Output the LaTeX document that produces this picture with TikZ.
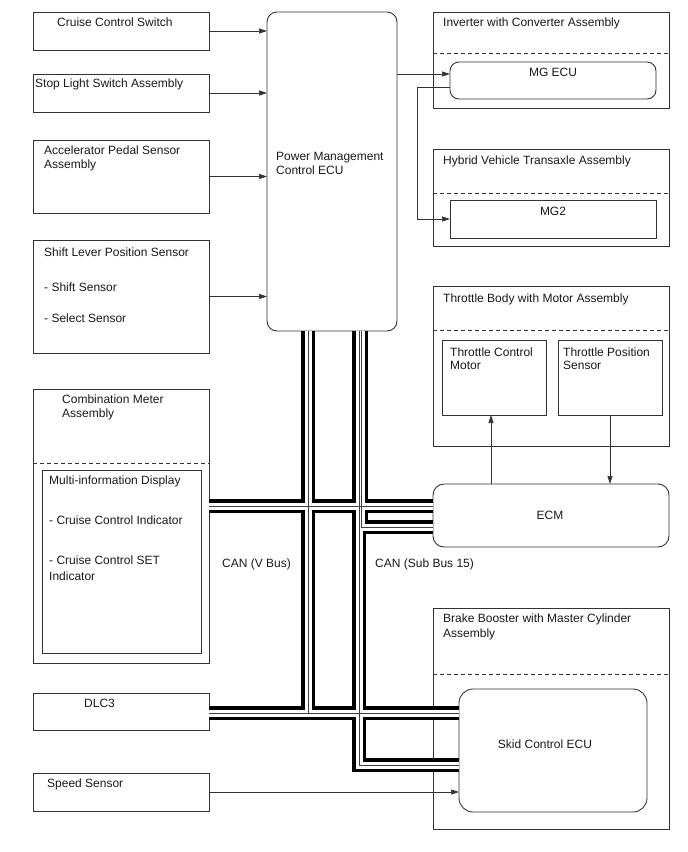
\documentclass[tikz,border=0pt]{standalone}
\usepackage{fontspec}
\setmainfont{Liberation Sans}
\usetikzlibrary{arrows.meta}
\newcommand\drawbuses[1]{%
  \draw[#1] (pmc.south -| vx) -- (vx |- yd);
  \draw[#1] (cm.east |- yv) -- (ecm.west |- yv);
  \draw[#1] (dlc.east |- yd) -- (skid.west |- yd);
  \draw[#1] (pmc.south -| sa) -- (sa |- ye) -- (ecm.west |- ye);
  \draw[#1] (pmc.south -| sb) -- (sb |- ys) -- (skid.west |- ys);
}
\begin{document}
\begin{tikzpicture}[x=1pt,y=-1pt,
  font=\fontsize{12}{14}\selectfont,
  box/.style={draw=black!80, line width=0.9pt, anchor=north west, inner sep=0pt, outer sep=0pt},
  rbox/.style={box, rounded corners=#1},
  txt/.style={anchor=base west, inner sep=0pt, text=black!90},
  ctxt/.style={anchor=base, inner sep=0pt, text=black!90},
  dsh/.style={draw=black!80, line width=0.9pt, dash pattern=on 4pt off 3pt},
  arr/.style={draw=black!80, line width=0.7pt, -{Triangle[length=8pt,width=5pt]}},
  wire/.style={draw=black!80, line width=0.7pt}]
\useasboundingbox (0,0) rectangle (688,852);

% left column
\node[box, minimum width=176pt, minimum height=38pt] (ccs) at (33,12) {};
\node[txt] (ccst) at (57,26) {Cruise Control Switch};
\node[box, minimum width=176pt, minimum height=38pt] (sls) at (33,74) {};
\node[txt] (slst) at (35,87) {Stop Light Switch Assembly};
\node[box, minimum width=176pt, minimum height=73pt] (aps) at (33,140) {};
\node[txt] (apst1) at (44,154) {Accelerator Pedal Sensor};
\node[txt] (apst2) at (44,168) {Assembly};
\node[box, minimum width=176pt, minimum height=113pt] (slp) at (33,240) {};
\node[txt] (slpt1) at (44,256) {Shift Lever Position Sensor};
\node[txt] (slpt2) at (44,291) {- Shift Sensor};
\node[txt] (slpt3) at (44,322) {- Select Sensor};

\node[box, minimum width=176pt, minimum height=274pt] (cm) at (33,389) {};
\draw[dsh] ([yshift=-74pt]cm.north west) -- ([yshift=-74pt]cm.north east);
\node[txt] (cmt1) at (62,403) {Combination Meter};
\node[txt] (cmt2) at (62,417) {Assembly};
\node[box, minimum width=159pt, minimum height=183pt] (mid) at (42,470) {};
\node[txt] (midt1) at (49,484) {Multi-information Display};
\node[txt] (midt2) at (49,524) {- Cruise Control Indicator};
\node[txt] (midt3) at (49,564) {- Cruise Control SET};
\node[txt] (midt4) at (49,580) {Indicator};

\node[box, minimum width=176pt, minimum height=37pt] (dlc) at (33,693) {};
\node[txt] (dlct) at (84,707) {DLC3};
\node[box, minimum width=176pt, minimum height=38pt] (spd) at (33,773) {};
\node[txt] (spdt) at (47,787) {Speed Sensor};

% PM ECU
\node[rbox=10pt, minimum width=130pt, minimum height=319pt] (pmc) at (267,12) {};
\node[txt] (pmct1) at (276,160) {Power Management};
\node[txt] (pmct2) at (276,174) {Control ECU};

% right column
\node[box, minimum width=236pt, minimum height=96pt] (inv) at (433,12) {};
\draw[dsh] ([yshift=-41pt]inv.north west) -- ([yshift=-41pt]inv.north east);
\node[txt] (invt) at (443,26) {Inverter with Converter Assembly};
\node[rbox=9pt, minimum width=206pt, minimum height=37pt] (mgecu) at (450,62) {};
\node[ctxt] (mgecut) at (553,76) {MG ECU};

\node[box, minimum width=236pt, minimum height=97pt] (hvt) at (433,149) {};
\draw[dsh] ([yshift=-44pt]hvt.north west) -- ([yshift=-44pt]hvt.north east);
\node[txt] (hvtt) at (443,164) {Hybrid Vehicle Transaxle Assembly};
\node[box, minimum width=206pt, minimum height=38pt] (mg2) at (450,200) {};
\node[ctxt] (mg2t) at (553,215) {MG2};

\node[box, minimum width=236pt, minimum height=160pt] (tb) at (433,286) {};
\draw[dsh] ([yshift=-44pt]tb.north west) -- ([yshift=-44pt]tb.north east);
\node[txt] (tbt) at (443,302) {Throttle Body with Motor Assembly};
\node[box, minimum width=104pt, minimum height=75pt] (tcm) at (442,340) {};
\node[txt] (tcmt1) at (450,356) {Throttle Control};
\node[txt] (tcmt2) at (450,369) {Motor};
\node[box, minimum width=104pt, minimum height=75pt] (tps) at (558,340) {};
\node[txt] (tpst1) at (563,356) {Throttle Position};
\node[txt] (tpst2) at (563,369) {Sensor};

\node[rbox=11pt, minimum width=236pt, minimum height=63pt] (ecm) at (433,484) {};
\node[ctxt] (ecmt) at (550,519) {ECM};

\node[box, minimum width=236pt, minimum height=221pt] (bb) at (433,608) {};
\draw[dsh] ([yshift=-66pt]bb.north west) -- ([yshift=-66pt]bb.north east);
\node[txt] (bbt1) at (443,622) {Brake Booster with Master Cylinder};
\node[txt] (bbt2) at (443,637) {Assembly};
\node[rbox=14pt, minimum width=188pt, minimum height=123pt] (skid) at (459,689) {};
\node[ctxt] (skidt) at (545,748) {Skid Control ECU};

% bus labels
\node[txt] (canv) at (222,567) {CAN (V Bus)};
\node[txt] (cans) at (375,567) {CAN (Sub Bus 15)};

% signal connectors
\draw[arr] (ccs.east) -- (ccs.east -| pmc.west);
\draw[arr] (sls.east) -- (sls.east -| pmc.west);
\draw[arr] (aps.east) -- (aps.east -| pmc.west);
\draw[arr] (slp.east) -- (slp.east -| pmc.west);
\coordinate (m1) at (0,74);
\draw[arr] (pmc.east |- m1) -- (mgecu.west |- m1);
\coordinate (c1) at (417,87);
\coordinate (c2) at (417,219);
\draw[arr] (mgecu.west |- c1) -- (c1) -- (c2) -- (mg2.west |- c2);
\coordinate (tx1) at (491,0);
\draw[arr] (ecm.north -| tx1) -- (tcm.south -| tx1);
\coordinate (tx2) at (610,0);
\draw[arr] (tps.south -| tx2) -- (ecm.north -| tx2);
\draw[arr] (spd.east) -- (spd.east -| skid.west);

% CAN buses
\coordinate (vx) at (308,0);
\coordinate (sa) at (361,0);
\coordinate (sb) at (359,0);
\coordinate (yv) at (0,506);
\coordinate (yd) at (0,713);
\coordinate (ye) at (0,527);
\coordinate (ys) at (0,765);
\drawbuses{black, line width=14pt}
\drawbuses{white, line width=7pt}
\drawbuses{black!75, line width=0.8pt}
\end{tikzpicture}
\end{document}
